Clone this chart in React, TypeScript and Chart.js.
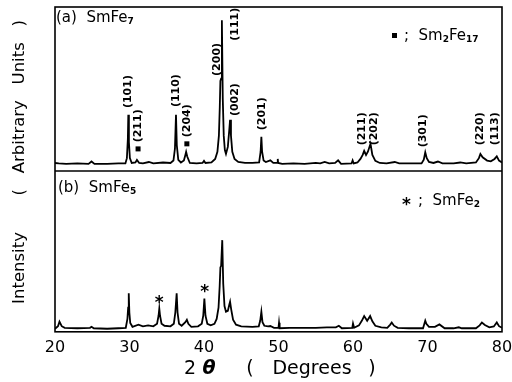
import React, { useEffect, useRef } from "react";
import { Chart, registerables } from "chart.js";

Chart.register(...registerables);

// 2θ range / tick labels
const xTickValues = [20, 30, 40, 50, 60, 70, 80];

// Panel (a) SmFe7 pattern
const thetaA = [
  20.0, 20.5, 21.5, 23.0, 24.5, 24.9, 25.3, 27.0, 28.5, 29.45, 29.65, 29.78, 29.84, 29.92, 30.05, 30.3,
  30.8, 31.0, 31.3, 31.8, 32.6, 33.2, 34.5, 35.5, 35.9, 36.1, 36.24, 36.35, 36.55, 36.9, 37.3, 37.5,
  37.6, 37.75, 38.1, 39.0, 39.8, 40.0, 40.2, 41.0, 41.5, 41.8, 42.0, 42.12, 42.2, 42.3, 42.4, 42.52,
  42.65, 42.8, 42.95, 43.2, 43.4, 43.5, 43.62, 43.8, 44.1, 44.6, 45.5, 46.5, 47.4, 47.6, 47.7, 47.8,
  48.0, 48.3, 48.9, 49.3, 49.85, 49.9, 49.95, 50.5, 52.0, 53.5, 55.0, 55.6, 56.2, 56.8, 57.6, 58.0,
  58.4, 59.8, 59.95, 60.1, 60.6, 61.0, 61.3, 61.5, 61.75, 62.0, 62.35, 62.6, 63.0, 63.6, 64.5, 65.6,
  66.2, 67.5, 69.2, 69.5, 69.7, 69.9, 70.2, 70.8, 71.4, 72.0, 73.5, 74.4, 75.2, 76.5, 76.9, 77.1,
  77.4, 78.0, 78.5, 79.0, 79.3, 79.6, 80.0,
];
const intensityA = [
  5.0, 4.7, 4.4, 4.7, 4.4, 5.9, 4.4, 4.4, 4.7, 4.7, 8, 20, 35, 18, 8, 5.0,
  5.3, 6.9, 5.0, 4.7, 5.6, 4.7, 5.3, 5.0, 6.5, 14, 35, 16, 7, 5.3, 6.5, 10,
  11.9, 9, 5.0, 4.7, 5.0, 6.3, 5.0, 5.3, 7.5, 12, 22, 40, 56, 57.5, 93.8, 45,
  22, 13, 10.6, 15, 26, 31.9, 22, 12, 7.5, 5.6, 5.0, 5.0, 5.3, 12, 21.3, 12,
  6.5, 5.6, 6.6, 5.0, 5.0, 7.5, 5.0, 4.4, 4.7, 4.4, 5.0, 4.7, 5.6, 4.7, 5.0, 6.6,
  4.4, 4.7, 6.6, 4.7, 5.3, 7.5, 10, 12.5, 10, 12, 16.9, 10, 6.3, 5.0, 4.7, 5.6,
  4.7, 4.7, 4.7, 7, 11.6, 8, 5.6, 5.0, 5.9, 4.7, 4.7, 5.3, 4.7, 5.3, 8, 10.6,
  8.5, 6.5, 6.0, 7.5, 9.1, 6.5, 5.3,
];

// Panel (b) SmFe5 pattern
const thetaB = [
  20.0, 20.4, 20.6, 20.9, 21.3, 23.0, 24.7, 24.9, 25.2, 27.0, 28.5, 29.5, 29.72, 29.82, 29.9, 29.98,
  30.1, 30.4, 31.2, 31.8, 32.5, 33.2, 33.7, 33.9, 34.0, 34.1, 34.3, 34.7, 35.5, 35.95, 36.15, 36.33,
  36.45, 36.65, 37.0, 37.5, 37.7, 37.9, 38.3, 39.2, 39.7, 39.9, 40.05, 40.2, 40.45, 40.9, 41.4, 41.7,
  41.95, 42.1, 42.2, 42.3, 42.45, 42.58, 42.75, 42.95, 43.2, 43.4, 43.5, 43.65, 43.9, 44.3, 45.0, 46.5,
  47.35, 47.55, 47.7, 47.85, 48.1, 48.6, 48.9, 49.4, 50.0, 50.07, 50.15, 51.5, 53.0, 55.0, 56.5, 57.7,
  58.1, 58.5, 59.9, 60.0, 60.15, 60.8, 61.2, 61.5, 61.9, 62.3, 62.6, 63.0, 63.8, 64.6, 65.0, 65.2,
  65.5, 66.0, 67.5, 69.4, 69.55, 69.7, 69.85, 70.2, 71.0, 71.6, 72.3, 73.5, 74.2, 74.6, 76.5, 77.0,
  77.3, 77.7, 78.3, 78.9, 79.3, 79.6, 80.0,
];
const intensityB = [
  1.9, 3.5, 6.3, 3.5, 2.5, 2.2, 2.5, 3.1, 2.2, 1.9, 2.2, 2.5, 8, 15, 23.9, 12,
  5.5, 3.1, 4.4, 3.4, 4.0, 3.4, 5, 10, 14.4, 10, 5, 3.75, 3.4, 5, 12, 23.9,
  12, 5, 3.75, 6, 7.5, 5, 3.1, 3.4, 5, 10, 20.6, 10, 5, 4, 5, 8,
  15, 28, 40, 41, 57, 30, 16, 12.5, 13, 17, 18.75, 14, 7.5, 4.4, 3.4, 3.1,
  3.4, 7, 12.5, 6, 3.75, 3.4, 3.6, 2.5, 2.5, 5.6, 2.2, 2.5, 2.5, 2.5, 2.8, 2.8,
  3.75, 2.2, 2.5, 5.2, 2.5, 4, 7, 9.8, 6.9, 9.8, 6.5, 3.75, 2.8, 2.5, 4.5, 5.8,
  3.8, 2.5, 2.2, 2.2, 4.5, 6.9, 5, 3.1, 3.1, 4.6, 2.2, 2.2, 2.8, 2.2, 2.2, 4,
  5.8, 4.2, 2.8, 3.3, 5.8, 3.5, 2.5,
];

const PANEL_A_OFFSET = 100;

// Miller index labels of panel (a)
const millerLabels = ["(101)", "(211)", "(110)", "(204)", "(200)", "(111)", "(002)", "(201)", "(211)", "(202)", "(301)", "(220)", "(113)"];
const millerTheta = [29.8, 31.15, 36.25, 37.7, 41.75, 44.15, 44.15, 47.8, 61.2, 62.8, 69.4, 77.05, 79.05];
const millerLevel = [49.4, 28.1, 50, 31.25, 69.4, 91.25, 44.4, 35.6, 26.25, 26.25, 25, 26.25, 26.25];

// Sm2Fe17 markers (panel a) and SmFe2 markers (panel b)
const squareTheta = [31.15, 37.7];
const squareLevel = [13.75, 16.9];
const starTheta = [34.0, 40.1];
const starLevel = [20, 26.9];

const FONT = '"DejaVu Sans", sans-serif';

function drawParts(ctx: CanvasRenderingContext2D, parts: { t: string; sub?: boolean }[], x: number, y: number, size: number) {
  let cx = x;
  for (const p of parts) {
    if (p.sub) {
      ctx.font = `bold ${Math.round(size * 0.62)}px ${FONT}`;
      ctx.fillText(p.t, cx, y + size * 0.22);
    } else {
      ctx.font = `${size}px ${FONT}`;
      ctx.fillText(p.t, cx, y);
    }
    cx += ctx.measureText(p.t).width;
  }
}

const overlay = {
  id: "overlay",
  afterDraw(chart: any) {
    const { ctx, chartArea: ca } = chart;
    const x = chart.scales.x;
    const y = chart.scales.y;
    ctx.save();
    ctx.strokeStyle = "#000";
    ctx.fillStyle = "#000";
    ctx.lineWidth = 1.6;
    ctx.strokeRect(ca.left, ca.top, ca.right - ca.left, ca.bottom - ca.top);
    const yd = y.getPixelForValue(PANEL_A_OFFSET);
    ctx.beginPath();
    ctx.moveTo(ca.left, yd);
    ctx.lineTo(ca.right, yd);
    ctx.stroke();

    // miller labels
    ctx.textBaseline = "middle";
    ctx.textAlign = "center";
    ctx.font = `bold 11px ${FONT}`;
    millerLabels.forEach((lab, i) => {
      const px = x.getPixelForValue(millerTheta[i]);
      const py = y.getPixelForValue(millerLevel[i] + PANEL_A_OFFSET);
      ctx.save();
      ctx.translate(px, py);
      ctx.rotate(-Math.PI / 2);
      ctx.fillText(lab, 0, 0);
      ctx.restore();
    });
    // squares
    squareTheta.forEach((t, i) => {
      const px = x.getPixelForValue(t);
      const py = y.getPixelForValue(squareLevel[i] + PANEL_A_OFFSET);
      ctx.fillRect(px - 2.5, py - 2.5, 5, 5);
    });
    // stars
    ctx.font = `bold 17px ${FONT}`;
    starTheta.forEach((t, i) => {
      const px = x.getPixelForValue(t);
      const py = y.getPixelForValue(starLevel[i]);
      ctx.fillText("*", px, py + 4);
    });

    // panel titles
    ctx.textAlign = "left";
    ctx.textBaseline = "middle";
    drawParts(ctx, [{ t: "(a)  SmFe" }, { t: "7", sub: true }], 56, 18, 15);
    drawParts(ctx, [{ t: "(b)  SmFe" }, { t: "5", sub: true }], 58, 188, 15);
    // legends
    ctx.fillRect(392, 33, 5, 5);
    drawParts(ctx, [{ t: ";  Sm" }, { t: "2", sub: true }, { t: "Fe" }, { t: "17", sub: true }], 404, 36, 15);
    ctx.font = `bold 17px ${FONT}`;
    ctx.fillText("*", 402, 206);
    drawParts(ctx, [{ t: ";  SmFe" }, { t: "2", sub: true }], 418, 201, 15);

    // y title
    ctx.save();
    ctx.translate(20, 162);
    ctx.rotate(-Math.PI / 2);
    ctx.textAlign = "center";
    ctx.font = `16.5px ${FONT}`;
    ctx.fillText("Intensity       (   Arbitrary   Units   )", 0, 0);
    ctx.restore();

    // x title
    ctx.textAlign = "center";
    ctx.font = `19px ${FONT}`;
    ctx.fillText("2", 190, 369);
    ctx.font = `italic bold 19px ${FONT}`;
    ctx.fillText("θ", 209, 369);
    ctx.font = `19px ${FONT}`;
    ctx.fillText("(", 250, 369);
    ctx.fillText("Degrees", 312, 369);
    ctx.fillText(")", 372, 369);
    ctx.restore();
  },
};

export default function App() {
  const ref = useRef<HTMLCanvasElement | null>(null);
  useEffect(() => {
    if (!ref.current) return;
    const dataA = thetaA.map((t, i) => ({ x: t, y: intensityA[i] + PANEL_A_OFFSET }));
    const dataB = thetaB.map((t, i) => ({ x: t, y: intensityB[i] }));
    const chart = new Chart(ref.current, {
      type: "line",
      data: {
        datasets: [
          { label: "SmFe7", data: dataA, borderColor: "#000", borderWidth: 1.8, pointRadius: 0, tension: 0, fill: false },
          { label: "SmFe5", data: dataB, borderColor: "#000", borderWidth: 1.8, pointRadius: 0, tension: 0, fill: false },
        ],
      },
      options: {
        animation: false,
        responsive: false,
        devicePixelRatio: 1,
        layout: { autoPadding: false, padding: { left: 55, right: 10, top: 7, bottom: 19 } },
        plugins: { legend: { display: false }, tooltip: { enabled: false } },
        scales: {
          x: {
            type: "linear",
            min: 20,
            max: 80,
            afterBuildTicks: (axis: any) => {
              axis.ticks = xTickValues.map((v) => ({ value: v }));
            },
            afterFit: (axis: any) => {
              axis.paddingLeft = 0;
              axis.paddingRight = 0;
            },
            grid: { display: false, drawTicks: false },
            border: { display: false },
            ticks: { color: "#000", padding: 6, font: { family: "DejaVu Sans", size: 16 }, maxRotation: 0 },
          },
          y: { display: false, min: 0, max: 202 },
        },
      },
      plugins: [overlay],
    });
    return () => chart.destroy();
  }, []);
  return (
    <div style={{ position: "absolute", left: 0, top: 0, width: 512, height: 382, background: "#fff" }}>
      <canvas ref={ref} width={512} height={382} style={{ display: "block" }} />
    </div>
  );
}
